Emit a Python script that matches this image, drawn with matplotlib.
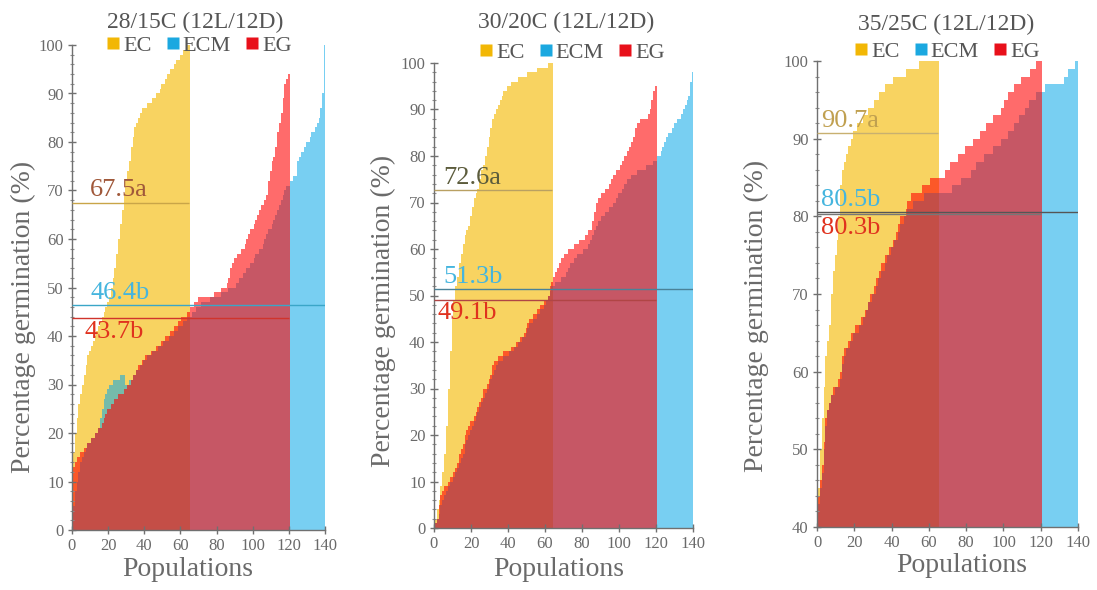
import matplotlib
matplotlib.use('Agg')
import matplotlib.pyplot as plt
from matplotlib.lines import Line2D
from matplotlib.ticker import MultipleLocator

plt.rcParams['font.family'] = ['Liberation Serif', 'DejaVu Serif']

# ---------------- data ----------------
titles = ['28/15C (12L/12D)', '30/20C (12L/12D)', '35/25C (12L/12D)']
groups = ['EC', 'ECM', 'EG']
x_label = 'Populations'
y_label = 'Percentage germination (%)'
x_ticks = [0, 20, 40, 60, 80, 100, 120, 140]

# Panel 1: 28/15C
ec_1 = [12, 16, 20, 23, 26, 28, 30, 32, 34, 36,
        37, 38, 39, 40, 41, 42, 43, 44, 45, 46,
        47, 48, 50, 52, 54, 57, 60, 63, 66, 69,
        72, 74, 76, 79, 81, 83, 84, 85, 86, 87,
        87, 87, 88, 88, 88, 89, 89, 90, 90, 91,
        92, 92, 93, 94, 94, 95, 95, 96, 97, 97,
        98, 98, 99, 99, 100, 100]
ecm_1 = [2, 5, 8, 10, 12, 14, 15, 16, 17, 18,
         18, 19, 19, 20, 20, 21, 23, 25, 27, 28,
         29, 30, 30, 31, 31, 31, 31, 32, 32, 32,
         30, 30, 31, 31, 32, 32, 33, 33, 34, 34,
         35, 35, 36, 36, 36, 37, 37, 37, 38, 38,
         38, 39, 39, 39, 40, 40, 40, 41, 41, 42,
         42, 42, 43, 43, 44, 44, 44, 45, 45, 46,
         46, 46, 47, 47, 47, 47, 47, 48, 48, 48,
         48, 48, 48, 49, 49, 49, 49, 50, 50, 50,
         50, 51, 51, 52, 52, 53, 53, 54, 54, 55,
         55, 56, 57, 57, 58, 58, 59, 60, 61, 62,
         62, 63, 64, 65, 66, 67, 68, 69, 70, 71,
         71, 72, 72, 73, 73, 76, 77, 78, 78, 79,
         80, 80, 81, 82, 82, 83, 84, 85, 87, 90, 100]
eg_1 = [10, 13, 14, 15, 15, 16, 16, 17, 17, 18,
        18, 19, 19, 20, 20, 21, 21, 22, 23, 24,
        25, 25, 26, 26, 27, 27, 28, 28, 28, 29,
        29, 30, 30, 31, 32, 32, 33, 34, 34, 35,
        35, 36, 36, 36, 37, 37, 37, 38, 38, 38,
        39, 39, 40, 40, 40, 41, 41, 42, 42, 43,
        43, 44, 44, 44, 45, 45, 46, 46, 47, 47,
        48, 48, 48, 48, 48, 48, 48, 48, 48, 49,
        49, 49, 49, 50, 50, 50, 51, 52, 54, 55,
        56, 56, 57, 57, 58, 58, 59, 60, 61, 62,
        62, 63, 64, 65, 66, 67, 67, 68, 69, 72,
        74, 76, 77, 79, 82, 84, 86, 89, 92, 93, 94]
means_1 = [67.5, 46.4, 43.7]
mean_labels_1 = ['67.5a', '46.4b', '43.7b']

# Panel 2: 30/20C
ec_2 = [1, 2, 4, 6, 9, 12, 16, 22, 30, 38,
        45, 49, 52, 54, 57, 59, 61, 63, 64, 65,
        67, 69, 71, 72, 73, 75, 77, 78, 80, 82,
        84, 86, 88, 89, 90, 91, 92, 93, 94, 94,
        95, 95, 96, 96, 96, 96, 97, 97, 97, 97,
        97, 98, 98, 98, 98, 98, 99, 99, 99, 99,
        99, 99, 100, 100, 100]
ecm_2 = [0, 1, 2, 3, 5, 6, 7, 8, 9, 10,
         10, 11, 12, 13, 14, 15, 16, 18, 19, 20,
         21, 22, 23, 24, 25, 26, 27, 28, 29, 30,
         31, 32, 33, 34, 35, 36, 36, 36, 37, 37,
         37, 38, 38, 38, 39, 39, 40, 40, 41, 41,
         42, 43, 44, 44, 45, 45, 46, 46, 47, 47,
         48, 49, 50, 51, 52, 52, 53, 53, 53, 54,
         54, 54, 55, 56, 57, 57, 58, 58, 59, 59,
         59, 60, 60, 60, 61, 62, 63, 64, 65, 66,
         66, 67, 67, 68, 68, 69, 69, 70, 70, 71,
         72, 72, 73, 74, 74, 75, 75, 76, 76, 76,
         77, 77, 77, 77, 77, 78, 78, 78, 78, 79,
         79, 80, 80, 81, 82, 83, 84, 85, 85, 86,
         87, 87, 88, 88, 89, 90, 91, 92, 93, 96, 98]
eg_2 = [0, 1, 2, 5, 7, 8, 9, 9, 10, 11,
        11, 12, 13, 14, 16, 17, 18, 20, 21, 22,
        23, 23, 24, 25, 26, 27, 28, 30, 30, 31,
        32, 33, 35, 36, 36, 37, 37, 37, 38, 38,
        38, 38, 39, 39, 39, 40, 40, 41, 41, 42,
        43, 44, 45, 45, 46, 46, 47, 47, 48, 48,
        49, 49, 50, 52, 53, 54, 55, 56, 57, 58,
        58, 59, 59, 60, 60, 60, 61, 61, 61, 62,
        62, 62, 63, 63, 64, 64, 66, 68, 70, 71,
        71, 72, 72, 73, 73, 74, 75, 76, 76, 77,
        77, 78, 79, 80, 80, 81, 82, 83, 84, 86,
        87, 87, 88, 88, 88, 88, 89, 90, 92, 94, 95]
means_2 = [72.6, 51.3, 49.1]
mean_labels_2 = ['72.6a', '51.3b', '49.1b']

# Panel 3: 35/25C
ec_3 = [41, 45, 50, 54, 58, 62, 64, 66, 70, 73,
        75, 77, 80, 84, 86, 87, 88, 89, 89, 90,
        91, 91, 92, 92, 92, 93, 93, 93, 94, 94,
        94, 95, 95, 95, 96, 96, 96, 97, 97, 97,
        97, 98, 98, 98, 98, 98, 98, 98, 99, 99,
        99, 99, 99, 99, 99, 100, 100, 100, 100, 100,
        100, 100, 100, 100, 100, 100]
ecm_3 = [42, 43, 45, 47, 50, 53, 55, 56, 57, 57,
         58, 58, 58, 59, 61, 62, 63, 63, 64, 64,
         65, 65, 65, 66, 66, 67, 67, 68, 69, 69,
         70, 70, 71, 72, 72, 73, 73, 74, 75, 75,
         76, 76, 77, 77, 78, 79, 79, 80, 80, 81,
         81, 81, 82, 82, 82, 82, 82, 82, 83, 83,
         83, 83, 83, 83, 83, 83, 83, 83, 83, 83,
         83, 83, 83, 84, 84, 84, 84, 84, 85, 85,
         85, 85, 85, 86, 86, 86, 87, 87, 87, 87,
         88, 88, 88, 88, 88, 89, 89, 89, 89, 90,
         90, 90, 90, 91, 91, 91, 92, 92, 92, 93,
         93, 93, 94, 94, 95, 95, 95, 95, 96, 96,
         96, 96, 96, 97, 97, 97, 97, 97, 97, 97,
         97, 97, 97, 98, 98, 99, 99, 99, 99, 100, 100]
eg_3 = [41, 44, 46, 48, 51, 54, 55, 56, 57, 58,
        58, 58, 59, 60, 62, 63, 63, 64, 64, 65,
        65, 66, 66, 66, 67, 67, 68, 68, 69, 70,
        70, 71, 72, 72, 73, 74, 74, 75, 75, 76,
        76, 77, 77, 78, 79, 80, 80, 80, 81, 82,
        82, 83, 83, 83, 83, 83, 83, 84, 84, 84,
        84, 85, 85, 85, 85, 85, 85, 85, 85, 86,
        86, 86, 87, 87, 87, 87, 88, 88, 88, 88,
        89, 89, 89, 89, 90, 90, 90, 90, 91, 91,
        91, 92, 92, 92, 92, 93, 93, 93, 93, 94,
        94, 95, 95, 96, 96, 96, 97, 97, 97, 97,
        98, 98, 98, 98, 98, 99, 99, 99, 100, 100, 100]
means_3 = [90.7, 80.5, 80.3]
mean_labels_3 = ['90.7a', '80.5b', '80.3b']

# ---------------- style ----------------
W, H = 1097, 590
bar_colors = {'EC': '#F5B800', 'ECM': '#0AA8E8', 'EG': '#FF0000'}
bar_alpha = {'EC': 0.62, 'ECM': 0.55, 'EG': 0.58}
legend_colors = {'EC': '#F2B705', 'ECM': '#1BA8E0', 'EG': '#E8101A'}
text_gray = '#6a6a6a'

panels = [
    dict(rect=(72, 45, 325, 530), ylim=(0, 100), series=(ec_1, ecm_1, eg_1),
         means=means_1, mlabels=mean_labels_1, title=titles[0],
         title_xy=(195, 22), leg_xy=(198, 46), ylab_xy=(23, 317), xlab_xy=(188, 570),
         label_x=(10, 10, 7),
         line_colors=('#C9A548', '#3AA6C8', '#D0342C'),
         label_colors=('#A0583A', '#45B5DE', '#E0321E')),
    dict(rect=(434, 63, 693, 528), ylim=(0, 100), series=(ec_2, ecm_2, eg_2),
         means=means_2, mlabels=mean_labels_2, title=titles[1],
         title_xy=(566, 22), leg_xy=(571, 53), ylab_xy=(383, 311), xlab_xy=(559, 570),
         label_x=(5, 5, 2),
         line_colors=('#B9A062', '#4A8298', '#B04545'),
         label_colors=('#5C5C3C', '#45B5DE', '#E0321E')),
    dict(rect=(817, 61, 1078, 527), ylim=(40, 100), series=(ec_3, ecm_3, eg_3),
         means=means_3, mlabels=mean_labels_3, title=titles[2],
         title_xy=(946, 24), leg_xy=(946, 52), ylab_xy=(756, 316), xlab_xy=(962, 565),
         label_x=(2, 2, 2),
         line_colors=('#C8B070', '#555555', '#777777'),
         label_colors=('#C0A050', '#45B5DE', '#E0321E')),
]

fig = plt.figure(figsize=(W / 100, H / 100), dpi=100)

for p in panels:
    l, t, r, b = p['rect']
    ax = fig.add_axes([l / W, 1 - b / H, (r - l) / W, (b - t) / H])
    for name, vals in zip(groups, p['series']):
        ax.bar(range(len(vals)), vals, width=1.0, color=bar_colors[name],
               alpha=bar_alpha[name], linewidth=0)
    ends = [len(s) - 1 for s in p['series']]
    for i, (m, lab) in enumerate(zip(p['means'], p['mlabels'])):
        ax.hlines(m, 0, ends[i], color=p['line_colors'][i], lw=1.0, zorder=5)
        below = (i == 2)
        ax.annotate(lab, xy=(p['label_x'][i], m),
                    xytext=(0, -2 if below else 1), textcoords='offset points',
                    ha='left', va='top' if below else 'bottom',
                    fontsize=19, color=p['label_colors'][i], zorder=6)
    ax.set_xlim(0, 140)
    ax.set_ylim(*p['ylim'])
    ax.set_xticks(x_ticks)
    ax.yaxis.set_major_locator(MultipleLocator(10))
    ax.yaxis.set_minor_locator(MultipleLocator(2))
    for s in ['top', 'right']:
        ax.spines[s].set_visible(False)
    for s in ['left', 'bottom']:
        ax.spines[s].set_color('#707070')
        ax.spines[s].set_linewidth(1.0)
    ax.tick_params(axis='both', which='major', direction='inout', length=6,
                   width=1, color='#707070', labelcolor=text_gray, labelsize=12, pad=3)
    ax.tick_params(axis='y', which='minor', direction='inout', length=3,
                   width=0.8, color='#909090')
    ax.set_facecolor('none')

    fig.text(p['title_xy'][0] / W, 1 - p['title_xy'][1] / H, p['title'],
             ha='center', va='center', fontsize=17, color='#555555')
    handles = [Line2D([], [], marker='s', linestyle='none', markersize=8,
                      markerfacecolor=legend_colors[g], markeredgecolor='none', label=g)
               for g in groups]
    fig.legend(handles=handles, loc='center', ncol=3, frameon=False,
               bbox_to_anchor=(p['leg_xy'][0] / W, 1 - p['leg_xy'][1] / H),
               fontsize=16, handletextpad=0.05, columnspacing=0.55, handlelength=0.8,
               borderaxespad=0, labelcolor='#555555')
    fig.text(p['ylab_xy'][0] / W, 1 - p['ylab_xy'][1] / H, y_label,
             rotation=90, ha='center', va='center', fontsize=20, color=text_gray)
    fig.text(p['xlab_xy'][0] / W, 1 - p['xlab_xy'][1] / H, x_label,
             ha='center', va='center', fontsize=20, color=text_gray)

fig.savefig('out.png', dpi=100)
